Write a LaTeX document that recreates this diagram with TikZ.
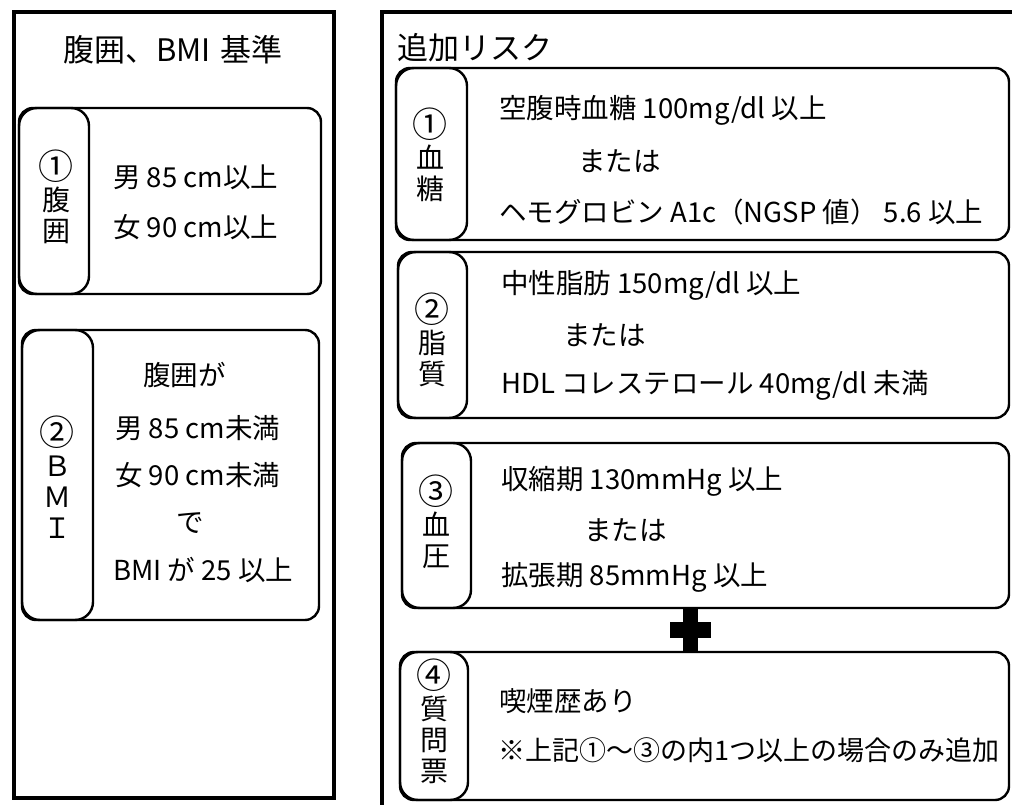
\documentclass[tikz,border=0pt]{standalone}
\usepackage{fontspec}
\setmainfont{Noto Sans CJK JP}
\newcommand{\cnum}[1]{\scalebox{1.25}{#1}}
\begin{document}
\begin{tikzpicture}[x=1pt,y=-1pt,
  outerbox/.style={line width=3.4pt},
  card/.style={line width=2.4pt, rounded corners=14pt},
  tabbox/.style={line width=2.4pt, rounded corners=18pt},
  txt/.style={anchor=west, inner sep=0pt, font=\fontsize{27.5}{30}\selectfont},
  lbl/.style={align=center, inner sep=0pt, font=\fontsize{28}{31}\selectfont},
  ttl/.style={inner sep=0pt, font=\fontsize{31}{34}\selectfont},
]
\useasboundingbox (0,0) rectangle (1012,805);
\clip (0,0) rectangle (1012,805);
\fill[white] (0,0) rectangle (1012,805);

% outer frames
\draw[outerbox] (14,12) rectangle (334,798);
\draw[outerbox] (382,12) rectangle (1030,830);

% titles
\node[ttl] (tl) at (173,50) {腹囲、BMI\hspace{10pt}基準};
\node[ttl, anchor=west] (tr) at (397,48) {追加リスク};

% left card 1
\draw[card] (19,108) rectangle (321,294);
\draw[tabbox] (19,108) rectangle (89,294);
\node[lbl] (l1) at (56,197) {\cnum{①}\\腹\\囲};
\node[txt] (l1a) at (113,177) {男 85 cm以上};
\node[txt] (l1b) at (113,227) {女 90 cm以上};

% left card 2
\draw[card] (22,330) rectangle (319,620);
\draw[tabbox] (22,330) rectangle (93,620);
\node[lbl] (l2) at (57,477) {\cnum{②}\\Ｂ\\Ｍ\\Ｉ};
\node[txt] (l2a) at (143,375) {腹囲が};
\node[txt] (l2b) at (115,428) {男 85 cm未満};
\node[txt] (l2c) at (115,475) {女 90 cm未満};
\node[txt] (l2d) at (176,523) {で};
\node[txt] (l2e) at (113,570) {BMI が 25 以上};

% right card 1
\draw[card] (396,68) rectangle (1009,240);
\draw[tabbox] (396,68) rectangle (467,240);
\node[lbl] (r1) at (430,155) {\cnum{①}\\血\\糖};
\node[txt] (r1a) at (499,110) {空腹時血糖 100mg/dl 以上};
\node[txt] (r1b) at (578,161) {または};
\node[txt] (r1c) at (499,212) {ヘモグロビン A1c（NGSP 値） 5.6 以上};

% right card 2
\draw[card] (398,252) rectangle (1009,418);
\draw[tabbox] (398,252) rectangle (467,418);
\node[lbl] (r2) at (432,340) {\cnum{②}\\脂\\質};
\node[txt] (r2a) at (501,285) {中性脂肪 150mg/dl 以上};
\node[txt] (r2b) at (563,335) {または};
\node[txt] (r2c) at (501,385) {HDL コレステロール 40mg/dl 未満};

% right card 3
\draw[card] (402,443) rectangle (1009,608);
\draw[tabbox] (402,443) rectangle (471,608);
\node[lbl] (r3) at (436,522) {\cnum{③}\\血\\圧};
\node[txt] (r3a) at (501,481) {収縮期 130mmHg 以上};
\node[txt] (r3b) at (584,530) {または};
\node[txt] (r3c) at (501,577) {拡張期 85mmHg 以上};

% plus sign
\fill (683,608) rectangle (698,652);
\fill (670,622) rectangle (711,638);

% right card 4
\draw[card] (400,652) rectangle (1009,800);
\draw[tabbox] (400,652) rectangle (468,800);
\node[lbl] (r4) at (434,721) {\cnum{④}\\質\\問\\票};
\node[txt] (r4a) at (499,701) {喫煙歴あり};
\node[txt, font=\fontsize{27}{30}\selectfont] (r4b) at (498,750) {※上記①～③の内1つ以上の場合のみ追加};
\end{tikzpicture}
\end{document}
